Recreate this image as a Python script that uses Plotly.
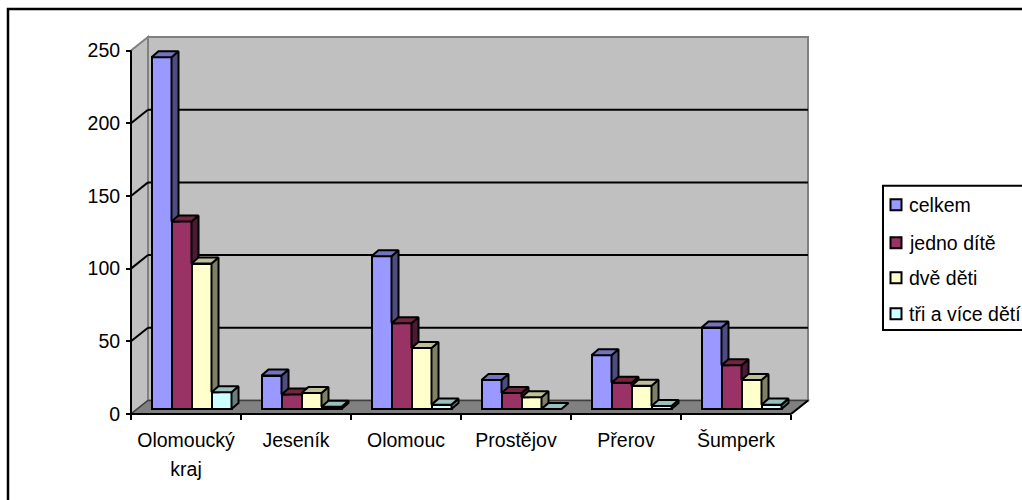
import plotly.graph_objects as go

categories = ["Olomoucký<br>kraj", "Jeseník", "Olomouc", "Prostějov", "Přerov", "Šumperk"]
series_names = ["celkem", "jedno dítě", "dvě děti", "tři a více dětí"]
celkem = [242, 23, 105, 20, 37, 56]
jedno_dite = [129, 10, 59, 11, 18, 30]
dve_deti = [100, 11, 42, 8, 16, 20]
tri_a_vice = [11.5, 1.5, 3, 0, 2, 3]
series_values = [celkem, jedno_dite, dve_deti, tri_a_vice]
y_ticks = [0, 50, 100, 150, 200, 250]

front_colors = ["#9999FF", "#993366", "#FFFFCC", "#CCFFFF"]
side_colors = ["#4D4D80", "#4D1A33", "#808066", "#668080"]
top_colors = ["#7373BF", "#732640", "#BFBF99", "#99BFBF"]

FONT = "Liberation Sans, Arial, sans-serif"
FS = 19.5
CAT_LINE_FS = 23      # sets the spacing between the lines of a wrapped category label
W, H = 1022, 500
PAD = 4
X0_PX, Y0_PX = 131, 414      # pixel of origin
CAT_PX, UNIT_PX = 110.0, 1.452
WALL_DX, WALL_DY = 17 / CAT_PX, 13.5 / UNIT_PX
BAR_W = 20 / CAT_PX
BAR_X0 = 20.5 / CAT_PX
BAR_BASE = 5 / UNIT_PX
BAR_DX, BAR_DY = 7 / CAT_PX, 6 / UNIT_PX
N = len(categories)
Y_TOP = 250

x_lo = -PAD / CAT_PX
x_hi = N + WALL_DX + PAD / CAT_PX
y_lo = -PAD / UNIT_PX
y_hi = Y_TOP + WALL_DY + PAD / UNIT_PX
left = X0_PX - PAD
bottom_m = H - (Y0_PX + PAD)
plot_w = (x_hi - x_lo) * CAT_PX
plot_h = (y_hi - y_lo) * UNIT_PX
right_m = W - left - plot_w
top_m = H - bottom_m - plot_h


def px(x):
    return (x - left) / plot_w


def py(y):
    return (H - bottom_m - y) / plot_h


def poly(points):
    return "M" + "L".join(f"{a},{b}" for a, b in points) + "Z"


def small(label):
    return "<br>".join(f'<span style="font-size:{FS}px">{p}</span>' for p in label.split("<br>"))


fig = go.Figure()
shapes = []
GREY = "#808080"
# walls and floor
shapes.append(dict(type="path", layer="below", xref="x", yref="y", fillcolor="#C0C0C0",
                   line=dict(color=GREY, width=2),
                   path=poly([(WALL_DX, WALL_DY), (N + WALL_DX, WALL_DY),
                              (N + WALL_DX, Y_TOP + WALL_DY), (WALL_DX, Y_TOP + WALL_DY)])))
shapes.append(dict(type="path", layer="below", xref="x", yref="y", fillcolor="#C0C0C0",
                   line=dict(color=GREY, width=2),
                   path=poly([(0, 0), (WALL_DX, WALL_DY), (WALL_DX, Y_TOP + WALL_DY), (0, Y_TOP)])))
shapes.append(dict(type="path", layer="below", xref="x", yref="y", fillcolor=GREY,
                   line=dict(color="#404040", width=1.5),
                   path=poly([(0, 0), (N, 0), (N + WALL_DX, WALL_DY), (WALL_DX, WALL_DY)])))
for v in y_ticks[1:-1]:
    shapes.append(dict(type="line", layer="below", xref="x", yref="y", x0=WALL_DX, x1=N + WALL_DX,
                       y0=v + WALL_DY, y1=v + WALL_DY, line=dict(color="black", width=2)))
    shapes.append(dict(type="line", layer="below", xref="x", yref="y", x0=0, x1=WALL_DX,
                       y0=v, y1=v + WALL_DY, line=dict(color="black", width=2)))
# axis lines
shapes.append(dict(type="line", layer="below", xref="x", yref="y", x0=0, x1=0, y0=0, y1=Y_TOP,
                   line=dict(color="black", width=2)))
shapes.append(dict(type="line", layer="below", xref="x", yref="y", x0=0, x1=N, y0=0, y1=0,
                   line=dict(color="black", width=2)))
shapes.append(dict(type="line", layer="below", xref="x", yref="y", x0=N, x1=N + WALL_DX, y0=0, y1=WALL_DY,
                   line=dict(color="black", width=2)))

cat_x = list(range(N))
for s, vals in enumerate(series_values):
    fig.add_trace(go.Bar(x=[c + BAR_X0 + s * BAR_W + BAR_W / 2 for c in cat_x], y=vals,
                         base=BAR_BASE, width=BAR_W, name=series_names[s], showlegend=False,
                         marker=dict(color=front_colors[s], line=dict(color="black", width=2))))

for s, vals in enumerate(series_values):
    sx, sy, tx, ty = [], [], [], []
    for c, v in enumerate(vals):
        L = c + BAR_X0 + s * BAR_W
        R = L + BAR_W
        top = BAR_BASE + v
        floor = BAR_BASE
        if s + 1 < len(series_values):
            floor = BAR_BASE + series_values[s + 1][c]
        if top > floor:
            low = max(floor, BAR_BASE + BAR_DY)
            sx += [R, R, R + BAR_DX, R + BAR_DX, R, None]
            sy += [floor, top, top + BAR_DY, low, floor, None]
        tx += [L, R, R + BAR_DX, L + BAR_DX, L, None]
        ty += [top, top, top + BAR_DY, top + BAR_DY, top, None]
    fig.add_trace(go.Scatter(x=sx, y=sy, mode="lines", fill="toself", fillcolor=side_colors[s],
                             line=dict(color="black", width=2), showlegend=False, hoverinfo="skip"))
    fig.add_trace(go.Scatter(x=tx, y=ty, mode="lines", fill="toself", fillcolor=top_colors[s],
                             line=dict(color="black", width=2), showlegend=False, hoverinfo="skip"))

# chart frame
shapes.append(dict(type="rect", xref="paper", yref="paper", x0=px(8), x1=px(1040), y0=py(9.5), y1=py(520),
                   line=dict(color="black", width=2.5), layer="below"))
# legend
shapes.append(dict(type="rect", xref="paper", yref="paper", x0=px(883), x1=px(1040), y0=py(186), y1=py(330),
                   line=dict(color="black", width=2), fillcolor="white"))
annotations = []
legend_y = [205, 243, 278, 314]
for i, name in enumerate(series_names):
    yc = legend_y[i]
    shapes.append(dict(type="rect", xref="paper", yref="paper", x0=px(890.5), x1=px(901.5),
                       y0=py(yc - 5.5), y1=py(yc + 5.5), fillcolor=front_colors[i],
                       line=dict(color="black", width=2)))
    annotations.append(dict(xref="paper", yref="paper", x=px(909), y=py(yc), xanchor="left", yanchor="middle",
                            text=name, showarrow=False, font=dict(family=FONT, size=FS, color="black"),
                            xshift=-2))

fig.update_layout(
    width=W, height=H, autosize=False, bargap=0, barmode="overlay",
    margin=dict(l=left, r=right_m, t=top_m, b=bottom_m, pad=0, autoexpand=False),
    paper_bgcolor="white", plot_bgcolor="white", showlegend=False,
    shapes=shapes, annotations=annotations,
    font=dict(family=FONT, size=FS, color="black"),
    xaxis=dict(range=[x_lo, x_hi], showgrid=False, zeroline=False, showline=False,
               anchor="free", position=PAD / plot_h,
               tickmode="array", tickvals=[c + 0.5 for c in cat_x], ticktext=[small(c) for c in categories],
               ticks="outside", ticklen=4, tickcolor="rgba(0,0,0,0)",
               minor=dict(tickmode="array", tickvals=list(range(N + 1)), ticks="outside",
                          ticklen=5, tickwidth=2, tickcolor="black", showgrid=False),
               tickfont=dict(family=FONT, size=CAT_LINE_FS, color="black")),
    yaxis=dict(range=[y_lo, y_hi], showgrid=False, zeroline=False, showline=False,
               anchor="free", position=PAD / plot_w,
               tickmode="array", tickvals=y_ticks, ticks="outside", ticklen=5, tickwidth=2,
               ticklabelstandoff=2,
               tickcolor="black", tickfont=dict(family=FONT, size=FS, color="black")),
)

fig.write_html("out.html", config={"displayModeBar": False},
               post_script="document.body.style.margin='0';document.body.style.overflow='hidden';")
